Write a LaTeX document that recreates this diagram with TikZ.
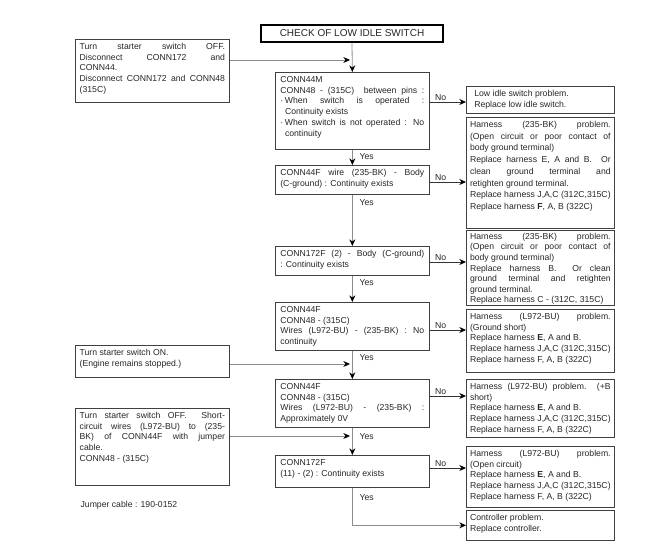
\documentclass[tikz,border=0pt]{standalone}
\usepackage{fontspec}
\setmainfont{Liberation Sans}
\usepackage{tikz}
\usetikzlibrary{arrows.meta}
\tolerance=9999
\hbadness=10000

\begin{document}
\begin{tikzpicture}[x=0.75pt,y=0.75pt,yscale=-1,xscale=1,
  txt/.style={font=\fontsize{6.5}{8.1}\selectfont, text=black!85},
  ckbox/.style={txt, draw=black!75, line width=0.5pt, anchor=north west, align=justify, inner xsep=0pt, inner ysep=2pt, text height=5.5pt},
  leftbox/.style={ckbox, text width=109pt, minimum width=115.5pt},
  midbox/.style={ckbox, text width=108pt, minimum width=115.5pt},
  fixbox/.style={ckbox, inner xsep=2.75pt, text width=105.5pt, minimum width=111pt},
  flow/.style={draw=black!45, line width=0.6pt, -{Stealth[length=5pt,width=4.5pt,black]}},
  nobranch/.style={draw=black!80, line width=0.6pt, -{Stealth[length=5pt,width=4.5pt,black]}},
  lbl/.style={txt, inner sep=1pt}
]
\useasboundingbox (0,0) rectangle (650,557);

%Shape: Rectangle
\node[txt, draw=black, line width=1pt, font=\fontsize{7.5}{8}\selectfont, minimum width=136.5pt, minimum height=12.75pt, inner sep=0pt] (title) at (352,33.5) {CHECK OF LOW IDLE SWITCH};

%Shape: Rectangle
\node[leftbox, text depth=37.75pt] (lb1) at (75,39) {Turn starter switch OFF.\linebreak Disconnect CONN172 and\linebreak CONN44.\newline Disconnect CONN172 and CONN48\linebreak (315C)};
%Shape: Rectangle
\node[leftbox, text depth=14.5pt] (lb2) at (75,345) {Turn starter switch ON.\newline (Engine remains stopped.)};
%Shape: Rectangle
\node[leftbox, text depth=48.25pt] (lb3) at (75,408) {Turn starter switch OFF.\ \ Short-\linebreak circuit wires (L972-BU) to (235-\linebreak BK) of CONN44F with jumper\linebreak cable.\newline CONN48 - (315C)};

%Shape: Rectangle
\node[midbox, text depth=48.25pt] (b1) at (275,72) {CONN44M\newline CONN48 - (315C)\ \ between pins :\linebreak\makebox[3.5pt][l]{·}When switch is operated :\linebreak\hspace*{3.5pt}Continuity exists\newline\makebox[3.5pt][l]{·}When switch is not operated : No\linebreak\hspace*{3.5pt}continuity};
%Shape: Rectangle
\node[midbox, text depth=12.25pt] (b2) at (275,165) {CONN44F wire (235-BK) - Body\linebreak (C-ground) : Continuity exists};
%Shape: Rectangle
\node[midbox, text depth=12.25pt] (b3) at (275,246) {CONN172F (2) - Body (C-ground)\linebreak : Continuity exists};
%Shape: Rectangle
\node[midbox, text depth=26.5pt] (b4) at (275,302) {CONN44F\newline CONN48 - (315C)\newline Wires (L972-BU) - (235-BK) : No\linebreak continuity};
%Shape: Rectangle
\node[midbox, text depth=26.5pt] (b5) at (275,379) {CONN44F\newline CONN48 - (315C)\newline Wires (L972-BU) - (235-BK) :\linebreak Approximately 0V};
%Shape: Rectangle
\node[midbox, text depth=14.5pt] (b6) at (275,455) {CONN172F\newline (11) - (2) : Continuity exists};

%Shape: Rectangle
\node[fixbox, text width=99pt, text depth=10.75pt] (r1) at (466,86) {Low idle switch problem.\newline Replace low idle switch.};
%Shape: Rectangle
\node[fixbox, font=\fontsize{6.5}{8.8}\selectfont, text depth=73.75pt] (r2) at (466,117) {Harness (235-BK) problem.\linebreak (Open circuit or poor contact of\linebreak body ground terminal)\newline Replace harness E, A and B.\ \ Or\linebreak clean ground terminal and\linebreak retighten ground terminal.\newline Replace harness J,A,C (312C,315C)\newline Replace harness \textbf{F}, A, B (322C)};
%Shape: Rectangle
\node[fixbox, font=\fontsize{6.5}{7.9}\selectfont, text height=4.8pt, text depth=47.45pt] (r3) at (466,230) {Harness (235-BK) problem.\linebreak (Open circuit or poor contact of\linebreak body ground terminal)\newline Replace harness B.\ \ Or clean\linebreak ground terminal and retighten\linebreak ground terminal.\newline Replace harness C - (312C, 315C)};
%Shape: Rectangle
\node[fixbox, text depth=37.75pt] (r4) at (466,309) {Harness (L972-BU) problem.\linebreak (Ground short)\newline Replace harness \textbf{E}, A and B.\newline Replace harness J,A,C (312C,315C)\newline Replace harness F, A, B (322C)};
%Shape: Rectangle
\node[fixbox, text depth=34pt] (r5) at (466,379) {Harness (L972-BU) problem.\ \ (+B\linebreak short)\newline Replace harness \textbf{E}, A and B.\newline Replace harness J,A,C (312C,315C)\newline Replace harness F, A, B (322C)};
%Shape: Rectangle
\node[fixbox, text depth=36.25pt] (r6) at (466,446) {Harness (L972-BU) problem.\linebreak (Open circuit)\newline Replace harness \textbf{E}, A and B.\newline Replace harness J,A,C (312C,315C)\newline Replace harness F, A, B (322C)};
%Shape: Rectangle
\node[fixbox, text depth=13pt] (r7) at (466,510) {Controller problem.\newline Replace controller.};

%Text
\node[lbl, anchor=west] (jumper) at (79,505) {Jumper cable : 190-0152};

%Straight Lines
\draw[flow] (title.south) -- (b1.north);
\draw[flow] (b1.south) -- (b2.north);
\draw[flow] (b2.south) -- (b3.north);
\draw[flow] (b3.south) -- (b4.north);
\draw[flow] (b4.south) -- (b5.north);
\draw[flow] (b5.south) -- (b6.north);
\draw[flow] (b6.south) |- (r7.west);

%Straight Lines
\coordinate (j1) at (350,60);
\coordinate (j2) at (350,364);
\coordinate (j3) at (350,436);
\draw[flow] (lb1.east |- j1) -- (j1);
\draw[flow] (lb2.east |- j2) -- (j2);
\draw[flow] (lb3.east |- j3) -- (j3);

%Straight Lines
\coordinate (n1) at (0,102);
\coordinate (n2) at (0,182);
\coordinate (n3) at (0,262);
\coordinate (n4) at (0,330);
\coordinate (n5) at (0,396);
\coordinate (n6) at (0,468);
\draw[nobranch] (b1.east |- n1) -- (r1.west |- n1) node[lbl, pos=0.3, above] (no1) {No};
\draw[nobranch] (b2.east |- n2) -- (r2.west |- n2) node[lbl, pos=0.3, above] (no2) {No};
\draw[nobranch] (b3.east |- n3) -- (r3.west |- n3) node[lbl, pos=0.3, above] (no3) {No};
\draw[nobranch] (b4.east |- n4) -- (r4.west |- n4) node[lbl, pos=0.3, above] (no4) {No};
\draw[nobranch] (b5.east |- n5) -- (r5.west |- n5) node[lbl, pos=0.3, above] (no5) {No};
\draw[nobranch] (b6.east |- n6) -- (r6.west |- n6) node[lbl, pos=0.3, above] (no6) {No};

%Text
\node[lbl, anchor=west] (yes1) at (358,157) {Yes};
\node[lbl, anchor=west] (yes2) at (358,203) {Yes};
\node[lbl, anchor=west] (yes3) at (358,283) {Yes};
\node[lbl, anchor=west] (yes4) at (358,358) {Yes};
\node[lbl, anchor=west] (yes5) at (358,437) {Yes};
\node[lbl, anchor=west] (yes6) at (358,498) {Yes};

\end{tikzpicture}
\end{document}
